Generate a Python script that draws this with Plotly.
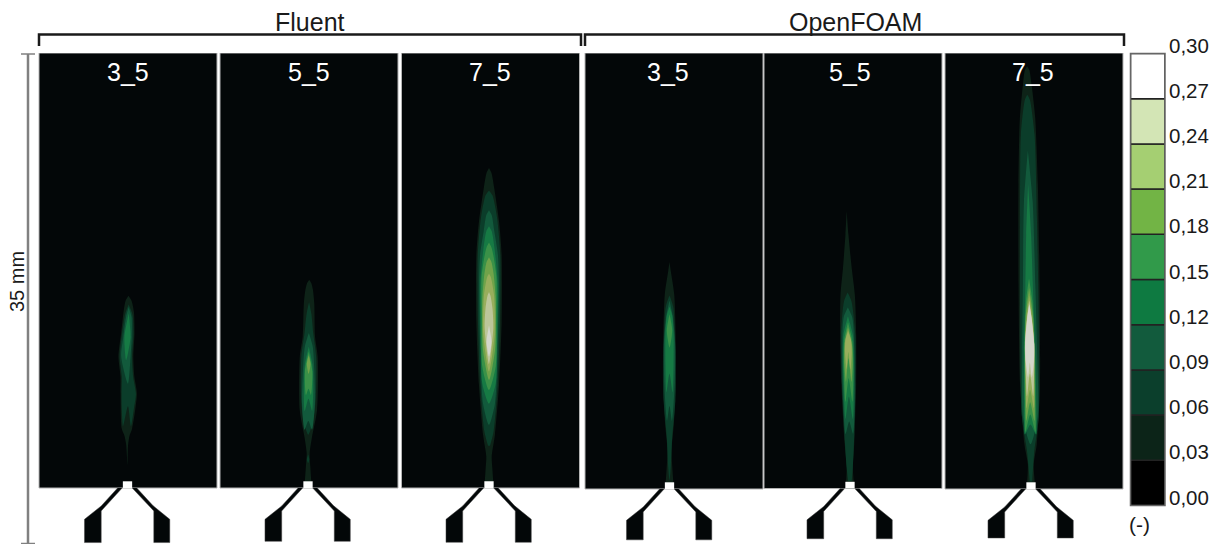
import numpy as np
import plotly.graph_objects as go

W, H = 1218, 544
FONT = "Liberation Sans"
MM_PX = 12.4          # image scale: 35 mm across the panel height

GROUP_NAMES = ["Fluent", "OpenFOAM"]
GROUP_LABEL_X = [309.5, 855]
CASE_NAMES = ["3_5", "5_5", "7_5", "3_5", "5_5", "7_5"]
SCALE_LABEL = "35 mm"
UNIT_LABEL = "(-)"

LEVELS = [0.00, 0.03, 0.06, 0.09, 0.12, 0.15, 0.18, 0.21, 0.24, 0.27]
BAR_COLORS = ["#000000", "#0c2418", "#0b3f2c", "#125b3d", "#0e7a41",
              "#319a4a", "#72b445", "#a5cf72", "#d3e5b5", "#ffffff"]
TICK_VALUES = [0.00, 0.03, 0.06, 0.09, 0.12, 0.15, 0.18, 0.21, 0.24, 0.27, 0.30]
TICK_TEXT = ["0,00", "0,03", "0,06", "0,09", "0,12", "0,15", "0,18", "0,21", "0,24", "0,27", "0,30"]
FLAME_COLORS = [None, "#0e2318", "#0b3d2a", "#125a3c", "#167a44",
                "#3a9148", "#70a34a", "#98ae5c", "#bcc69a", "#d4d6cc"]

# Contours: (band index, height above nozzle in mm, half width in mm)
FLUENT_3_5 = [
    (1, [1.85, 3.5, 4.2, 4.8, 7.6, 9.0, 10.6, 12.5, 14.2, 15.1, 15.5], [0, .08, .2, .42, .66, .56, .6, .54, .42, .24, 0]),
    (2, [6.6, 5.0, 6.5, 7.6, 9.0, 10.6, 12.5, 14.0, 14.8], [0, .32, .5, .58, .46, .5, .46, .3, 0]),
    (3, [8.4, 10.6, 12.2, 13.8, 14.6], [0, .38, .34, .22, 0]),
    (4, [10.3, 12.2, 14.1], [0, .25, 0]),
]
FLUENT_5_5 = [
    (1, [0, 1.7, 2.8, 4.1, 6.3, 10.6, 12.2, 14.9, 16.0, 16.5, 16.8], [.3, .18, .12, .3, .7, .72, .5, .42, .3, .18, 0]),
    (2, [2.0, 2.3, 2.7], [0, .1, 0]),
    (2, [4.3, 5.5, 7.4, 10.6, 12.5, 14.0, 15.0], [0, .4, .6, .6, .35, .2, 0]),
    (3, [5.4, 4.7, 6.8, 9.5, 11.4, 12.5], [0, .3, .52, .46, .32, 0]),
    (4, [7.2, 6.2, 8.2, 10.0, 11.4], [0, .3, .38, .3, 0]),
    (5, [8.0, 7.5, 9.4, 11.0], [0, .2, .3, 0]),
    (6, [9.2, 10.0, 10.7], [0, .15, 0]),
]
FLUENT_7_5 = [
    (1, [0, 1.6, 2.55, 4.3, 8.3, 13.4, 18.8, 21.5, 24.2, 25.4, 25.8], [.38, .27, .22, .48, .81, 1.02, 1.02, .81, .42, .2, 0]),
    (2, [3.4, 4.6, 8.3, 13.4, 18.8, 21.8, 23.6, 24.0], [.08, .38, .7, .89, .91, .65, .28, 0]),
    (3, [5.1, 6.8, 11.1, 16.5, 18.8, 20.7, 22.0, 22.4], [0, .48, .7, .8, .72, .43, .22, 0]),
    (4, [6.8, 8.4, 11.1, 16.5, 19.2, 20.7, 21.1], [0, .54, .65, .7, .46, .22, 0]),
    (5, [7.9, 9.8, 13.8, 17.0, 18.6, 19.4, 19.8], [0, .54, .6, .6, .38, .2, 0]),
    (6, [8.7, 11.1, 15.1, 17.2, 18.2, 18.6], [0, .48, .54, .38, .2, 0]),
    (7, [9.4, 12.4, 15.6, 17.0, 17.3], [0, .46, .4, .15, 0]),
    (8, [10.0, 12.9, 14.5, 15.5, 15.8], [0, .35, .28, .12, 0]),
    (9, [10.6, 11.8, 13.1], [0, .2, 0]),
]
OPENFOAM_3_5 = [
    (1, [0, 3.1, 5.2, 8.5, 12.5, 15.7, 17.6, 18.3], [.35, .17, .35, .52, .5, .38, .1, 0]),
    (2, [.7, 1.7, 4.2, 7.1, 11.2, 14.7, 15.6], [0, .1, .22, .47, .48, .3, 0]),
    (3, [6.7, 5.5, 8.5, 11.8, 14.0, 15.2], [0, .2, .42, .45, .25, 0]),
    (4, [9.3, 7.8, 10.0, 12.5, 14.0, 14.7], [0, .25, .33, .33, .22, 0]),
    (5, [11.4, 12.8, 14.1], [0, .22, 0]),
]
OPENFOAM_5_5 = [
    (1, [0, 1.7, 3.8, 8.4, 12.4, 15.6, 17.8, 20.5, 22.4], [.35, .25, .4, .6, .65, .58, .35, .12, 0]),
    (2, [.6, 1.7, 4.4, 8.4, 12.4, 15.1, 15.8], [.15, .25, .4, .55, .58, .3, 0]),
    (3, [5.4, 4.4, 7.0, 11.1, 13.8, 14.6], [0, .3, .47, .5, .35, 0]),
    (4, [7.4, 5.6, 8.3, 10.5, 12.4, 13.9], [0, .3, .42, .45, .38, 0]),
    (5, [8.9, 7.0, 9.4, 11.9, 13.4], [0, .28, .38, .33, 0]),
    (6, [10.5, 8.6, 10.0, 11.6, 13.0], [0, .22, .33, .3, 0]),
    (7, [11.0, 9.6, 11.0, 12.0, 12.7], [0, .15, .27, .22, 0]),
]
OPENFOAM_7_5 = [
    (1, [0, 2.0, 3.6, 8.4, 16.5, 24.6, 29.9, 32.6, 33.8, 34.1], [.35, .24, .5, .8, .85, .78, .62, .35, .18, 0]),
    (2, [.6, 3.1, 5.8, 13.8, 21.9, 28.6, 31.4, 31.8], [.1, .3, .68, .75, .68, .55, .2, 0]),
    (3, [3.6, 5.8, 11.1, 16.5, 23.2, 27.3], [0, .6, .6, .5, .35, 0]),
    (4, [5.2, 4.4, 5.8, 11.1, 16.5, 20.5, 24.6], [0, .45, .5, .45, .3, .2, 0]),
    (5, [6.0, 4.6, 7.1, 11.1, 15.2, 17.0], [0, .4, .42, .42, .25, 0]),
    (6, [7.0, 5.5, 7.6, 9.8, 13.8, 16.2], [0, .33, .38, .38, .3, 0]),
    (7, [8.0, 6.5, 8.4, 12.5, 15.6], [0, .3, .34, .33, 0]),
    (8, [9.3, 7.5, 9.2, 11.7, 15.2], [0, .25, .33, .38, 0]),
    (9, [10.2, 9.0, 10.3, 11.7, 13.8, 14.9], [0, .15, .33, .36, .18, 0]),
]
FLAMES = [FLUENT_3_5, FLUENT_5_5, FLUENT_7_5, OPENFOAM_3_5, OPENFOAM_5_5, OPENFOAM_7_5]

# Flame centre line: height (mm) and sideways offset (mm)
CENTER_Z = [
    [0, 1.85, 4.7, 6.0, 7.6, 10.6, 13.5, 15.5],
    [0, 6.0, 17.0],
    [0, 26.0],
    [0, 18.0],
    [0, 22.5],
    [0, 34.5],
]
CENTER_X = [
    [0, 0, -.05, 0, .1, -.13, .11, .08],
    [0, .03, .1],
    [0, 0],
    [0, 0],
    [0, -.27],
    [0, -.32],
]

NOZZLE_LEFT_X = [-.43, -2.12, -2.12, -3.47, -3.47, -2.12, -.8]
NOZZLE_LEFT_Z = [0, -1.85, None, None, -2.53, -1.45, 0]
NOZZLE_RIGHT_X = [.38, 2.12, 2.12, 3.41, 3.41, 2.05, .75]
NOZZLE_RIGHT_Z = [0, -1.85, None, None, -2.53, -1.42, 0]
NOZZLE_DEPTH = [-4.4, -4.3, -4.38, -4.1, -4.05, -3.95]
EXIT_X = [-.375, .375, .375, -.375]
EXIT_Z = [0, 0, .54, .54]

# layout, in page pixels
PANEL_X0 = [39, 220, 401.5, 585, 764, 945]
PANEL_X1 = [217, 398, 579.5, 763, 942, 1123]
PANEL_CX = [127.5, 308, 489, 669.5, 850, 1031]
PANEL_BASE = [488, 488, 488, 489, 488.5, 489]
PANEL_TOP = 53
LABEL_X = [128, 309, 490, 668, 850, 1033]


def px(x):
    return x / W


def py(y):
    return 1 - y / H


fig = go.Figure()
layout = dict(
    width=W, height=H, margin=dict(l=0, r=0, t=0, b=0, pad=0), autosize=False,
    paper_bgcolor="white", plot_bgcolor="rgba(0,0,0,0)", showlegend=False,
    barmode="overlay", font=dict(family=FONT, color="#1a1a1a"),
)
shapes, annotations = [], []
BLANK = dict(visible=False, showgrid=False, zeroline=False, fixedrange=True)

for i, flame in enumerate(FLAMES):
    suffix = str(i + 1) if i else ""
    xa, ya = "x" + suffix, "y" + suffix
    c, base = PANEL_CX[i], PANEL_BASE[i]
    layout["xaxis" + suffix] = dict(
        BLANK, domain=[px(PANEL_X0[i]), px(PANEL_X1[i])], anchor=ya,
        range=[(PANEL_X0[i] - c) / MM_PX, (PANEL_X1[i] - c) / MM_PX])
    layout["yaxis" + suffix] = dict(
        BLANK, domain=[0, py(PANEL_TOP)], anchor=xa,
        range=[(base - H) / MM_PX, (base - PANEL_TOP) / MM_PX])
    shapes.append(dict(type="rect", xref=xa + " domain", yref=ya, x0=0, x1=1, y0=0,
                       y1=(base - PANEL_TOP) / MM_PX, fillcolor="#030708",
                       line=dict(color="#b4b4b4", width=1), layer="below"))
    for band, z, r in flame:
        z, r = np.array(z, float), np.array(r, float)
        cx = np.interp(z, CENTER_Z[i], CENTER_X[i])
        xs = np.concatenate([cx - r, (cx + r)[::-1]])
        zs = np.concatenate([z, z[::-1]])
        fig.add_trace(go.Scatter(
            x=xs, y=zs, xaxis=xa, yaxis=ya, mode="lines", fill="toself",
            fillcolor=FLAME_COLORS[band], hoverinfo="skip",
            line=dict(width=0, shape="spline", smoothing=0.7, color=FLAME_COLORS[band])))
    fig.add_trace(go.Scatter(
        x=EXIT_X, y=EXIT_Z, xaxis=xa, yaxis=ya, mode="lines", fill="toself",
        fillcolor="white", line=dict(width=0), hoverinfo="skip"))
    for nx, nz in ((NOZZLE_LEFT_X, NOZZLE_LEFT_Z), (NOZZLE_RIGHT_X, NOZZLE_RIGHT_Z)):
        nz = [NOZZLE_DEPTH[i] if v is None else v for v in nz]
        fig.add_trace(go.Scatter(
            x=nx, y=nz, xaxis=xa, yaxis=ya, mode="lines", fill="toself",
            fillcolor="#030708", line=dict(width=0.5, color="#444"), hoverinfo="skip"))
    annotations.append(dict(text=CASE_NAMES[i], xref="paper", yref="paper", x=px(LABEL_X[i]),
                            y=py(72), showarrow=False, font=dict(size=25, color="white", family=FONT),
                            xanchor="center", yanchor="middle"))

# colour bar
layout["xaxis7"] = dict(BLANK, domain=[px(1130.5), px(1165)], anchor="y7", range=[-.5, .5])
layout["yaxis7"] = dict(BLANK, domain=[py(505.5), py(53.5)], anchor="x7", range=[0, .30])
fig.add_trace(go.Bar(
    x=[0] * len(LEVELS), y=[.03] * len(LEVELS), base=LEVELS, width=1, xaxis="x7", yaxis="y7",
    marker=dict(color=BAR_COLORS, line=dict(color="#222222", width=1.5)), hoverinfo="skip"))
shapes.append(dict(type="rect", xref="x7 domain", yref="y7 domain", x0=0, x1=1, y0=0, y1=1,
                   line=dict(color="#666666", width=1.5), fillcolor="rgba(0,0,0,0)"))
for val, lab in zip(TICK_VALUES, TICK_TEXT):
    annotations.append(dict(text=lab, xref="paper", yref="y7", x=px(1166.5), y=val, yshift=8.5,
                            showarrow=False, xanchor="left", yanchor="middle",
                            font=dict(size=20.5, color="#1a1a1a", family=FONT)))
annotations.append(dict(text=UNIT_LABEL, xref="paper", yref="paper", x=px(1139), y=py(524),
                        showarrow=False, xanchor="center", yanchor="middle",
                        font=dict(size=21, color="#1a1a1a", family=FONT)))

# group brackets
for name, x0, x1, lx in ((GROUP_NAMES[0], 39, 581, GROUP_LABEL_X[0]), (GROUP_NAMES[1], 585, 1124, GROUP_LABEL_X[1])):
    shapes.append(dict(type="path", xref="paper", yref="paper",
                       path=f"M {px(x0)} {py(46)} L {px(x0)} {py(34.5)} L {px(x1)} {py(34.5)} L {px(x1)} {py(46)}",
                       line=dict(color="#1a1a1a", width=2.5)))
    annotations.append(dict(text=name, xref="paper", yref="paper", x=px(lx), y=py(22), showarrow=False,
                            xanchor="center", yanchor="middle", font=dict(size=25, color="#1a1a1a", family=FONT)))

# 35 mm scale
for x0, y0, x1, y1 in ((28, 54, 28, 543), (21, 54, 35, 54), (21, 543.5, 35, 543.5)):
    shapes.append(dict(type="line", xref="paper", yref="paper", x0=px(x0), x1=px(x1), y0=py(y0), y1=py(y1),
                       line=dict(color="#808080", width=2.5 if x0 == x1 else 1.5)))
annotations.append(dict(text=SCALE_LABEL, xref="paper", yref="paper", x=px(17), y=py(282), textangle=-90,
                        showarrow=False, xanchor="center", yanchor="middle",
                        font=dict(size=20, color="#1a1a1a", family=FONT)))

fig.update_layout(**layout, shapes=shapes, annotations=annotations)
fig.write_html("out.html", config=dict(displayModeBar=False),
               post_script="document.body.style.margin='0';document.body.style.overflow='hidden';")
